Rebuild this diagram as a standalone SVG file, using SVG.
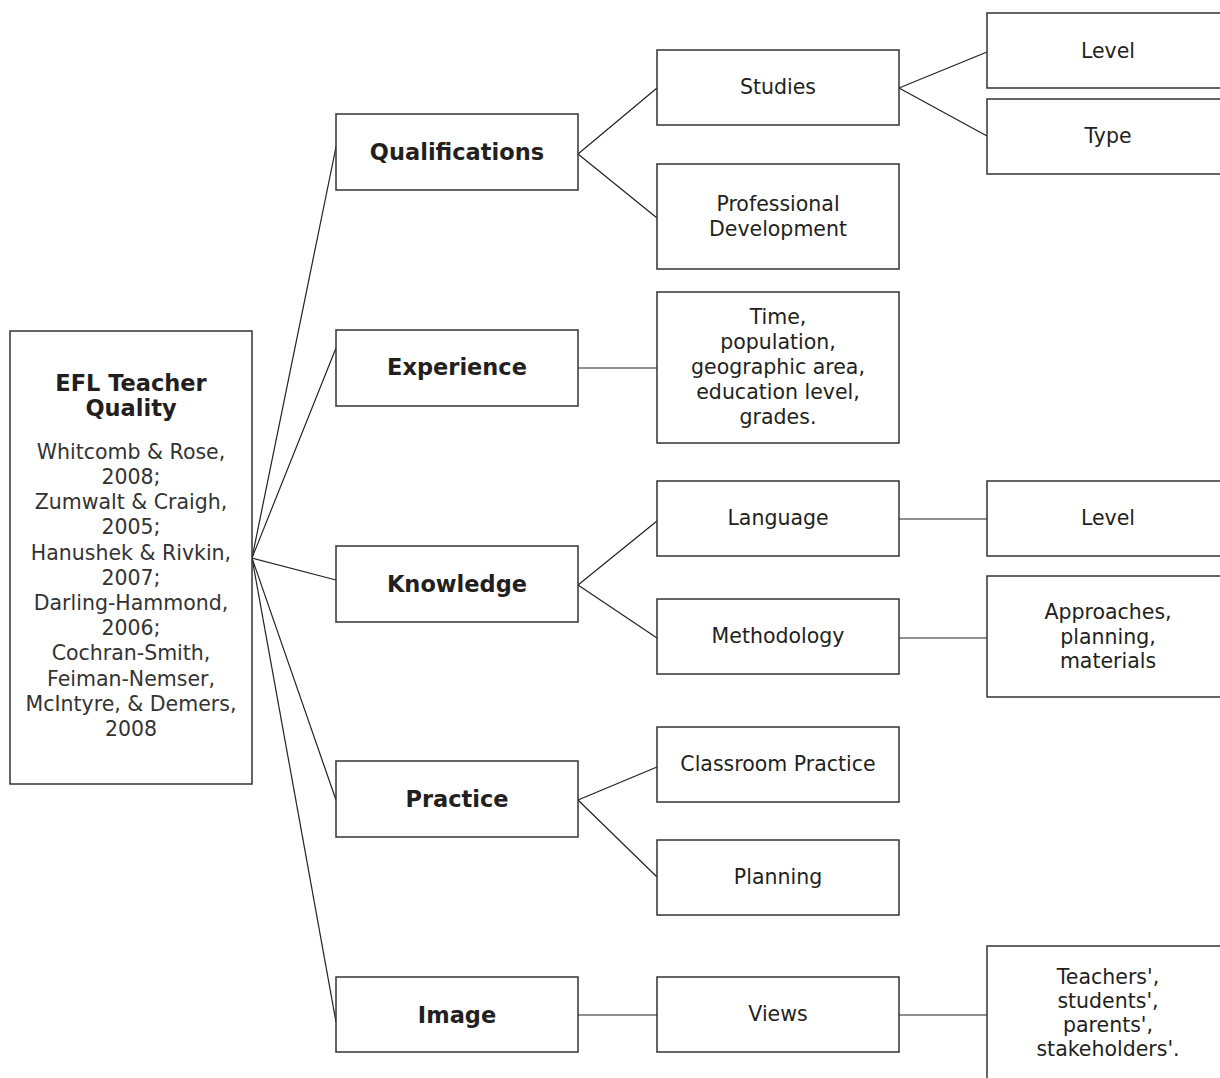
<svg xmlns="http://www.w3.org/2000/svg" width="1220" height="1078" viewBox="0 0 1220 1078">
<style>
.box{fill:#fff;stroke:#333;stroke-width:1.5}
.ln{stroke:#222;stroke-width:1.2;fill:none}
text{font-family:"DejaVu Sans","Open Sans","Liberation Sans",sans-serif;fill:#231f20;text-anchor:middle}
.b{font-weight:700;font-size:22.5px}
.r{font-size:20.5px}
.ref{font-size:20.5px;fill:#333}
</style>
<rect width="1220" height="1078" fill="#fff"/>
<g id="connectors">
<line class="ln" x1="252" y1="558" x2="336" y2="147"/>
<line class="ln" x1="252" y1="558" x2="336" y2="348"/>
<line class="ln" x1="252" y1="558" x2="336" y2="580"/>
<line class="ln" x1="252" y1="558" x2="336" y2="800"/>
<line class="ln" x1="252" y1="558" x2="336" y2="1022"/>
<line class="ln" x1="578" y1="154" x2="657" y2="88"/>
<line class="ln" x1="578" y1="154" x2="657" y2="218"/>
<line class="ln" x1="899" y1="88" x2="987" y2="52"/>
<line class="ln" x1="899" y1="88" x2="987" y2="136"/>
<line class="ln" x1="578" y1="368" x2="657" y2="368"/>
<line class="ln" x1="578" y1="585" x2="657" y2="521"/>
<line class="ln" x1="578" y1="585" x2="657" y2="638"/>
<line class="ln" x1="899" y1="519" x2="987" y2="519"/>
<line class="ln" x1="899" y1="638" x2="987" y2="638"/>
<line class="ln" x1="578" y1="800" x2="657" y2="767"/>
<line class="ln" x1="578" y1="800" x2="657" y2="877"/>
<line class="ln" x1="578" y1="1015" x2="657" y2="1015"/>
<line class="ln" x1="899" y1="1015" x2="987" y2="1015"/>
</g>
<g id="root">
<rect class="box" x="10" y="331" width="242" height="453"/>
<text class="b" x="131" y="391">EFL Teacher</text>
<text class="b" x="131" y="416">Quality</text>
<text class="ref" x="131" y="459">Whitcomb &amp; Rose,</text>
<text class="ref" x="131" y="484">2008;</text>
<text class="ref" x="131" y="509">Zumwalt &amp; Craigh,</text>
<text class="ref" x="131" y="534">2005;</text>
<text class="ref" x="131" y="560">Hanushek &amp; Rivkin,</text>
<text class="ref" x="131" y="585">2007;</text>
<text class="ref" x="131" y="610">Darling-Hammond,</text>
<text class="ref" x="131" y="635">2006;</text>
<text class="ref" x="131" y="660">Cochran-Smith,</text>
<text class="ref" x="131" y="686">Feiman-Nemser,</text>
<text class="ref" x="131" y="711">McIntyre, &amp; Demers,</text>
<text class="ref" x="131" y="736">2008</text>
</g>
<g id="qualifications">
<rect class="box" x="336" y="114" width="242" height="76"/>
<text class="b" x="457" y="160">Qualifications</text>
</g>
<g id="studies">
<rect class="box" x="657" y="50" width="242" height="75"/>
<text class="r" x="778" y="94">Studies</text>
</g>
<g id="level1">
<rect class="box" x="987" y="13" width="260" height="75"/>
<text class="r" x="1108" y="58">Level</text>
</g>
<g id="type">
<rect class="box" x="987" y="99" width="260" height="75"/>
<text class="r" x="1108" y="143">Type</text>
</g>
<g id="profdev">
<rect class="box" x="657" y="164" width="242" height="105"/>
<text class="r" x="778" y="211">Professional</text>
<text class="r" x="778" y="236">Development</text>
</g>
<g id="experience">
<rect class="box" x="336" y="330" width="242" height="76"/>
<text class="b" x="457" y="375">Experience</text>
</g>
<g id="time">
<rect class="box" x="657" y="292" width="242" height="151"/>
<text class="r" x="778" y="324">Time,</text>
<text class="r" x="778" y="349">population,</text>
<text class="r" x="778" y="374">geographic area,</text>
<text class="r" x="778" y="399">education level,</text>
<text class="r" x="778" y="424">grades.</text>
</g>
<g id="knowledge">
<rect class="box" x="336" y="546" width="242" height="76"/>
<text class="b" x="457" y="592">Knowledge</text>
</g>
<g id="language">
<rect class="box" x="657" y="481" width="242" height="75"/>
<text class="r" x="778" y="525">Language</text>
</g>
<g id="level2">
<rect class="box" x="987" y="481" width="260" height="75"/>
<text class="r" x="1108" y="525">Level</text>
</g>
<g id="methodology">
<rect class="box" x="657" y="599" width="242" height="75"/>
<text class="r" x="778" y="643">Methodology</text>
</g>
<g id="approaches">
<rect class="box" x="987" y="576" width="260" height="121"/>
<text class="r" x="1108" y="619">Approaches,</text>
<text class="r" x="1108" y="644">planning,</text>
<text class="r" x="1108" y="668">materials</text>
</g>
<g id="practice">
<rect class="box" x="336" y="761" width="242" height="76"/>
<text class="b" x="457" y="807">Practice</text>
</g>
<g id="classroom">
<rect class="box" x="657" y="727" width="242" height="75"/>
<text class="r" x="778" y="771">Classroom Practice</text>
</g>
<g id="planning">
<rect class="box" x="657" y="840" width="242" height="75"/>
<text class="r" x="778" y="884">Planning</text>
</g>
<g id="image">
<rect class="box" x="336" y="977" width="242" height="75"/>
<text class="b" x="457" y="1023">Image</text>
</g>
<g id="views">
<rect class="box" x="657" y="977" width="242" height="75"/>
<text class="r" x="778" y="1021">Views</text>
</g>
<g id="stakeholders">
<rect class="box" x="987" y="946" width="260" height="160"/>
<text class="r" x="1108" y="984">Teachers',</text>
<text class="r" x="1108" y="1008">students',</text>
<text class="r" x="1108" y="1032">parents',</text>
<text class="r" x="1108" y="1056">stakeholders'.</text>
</g>
</svg>
